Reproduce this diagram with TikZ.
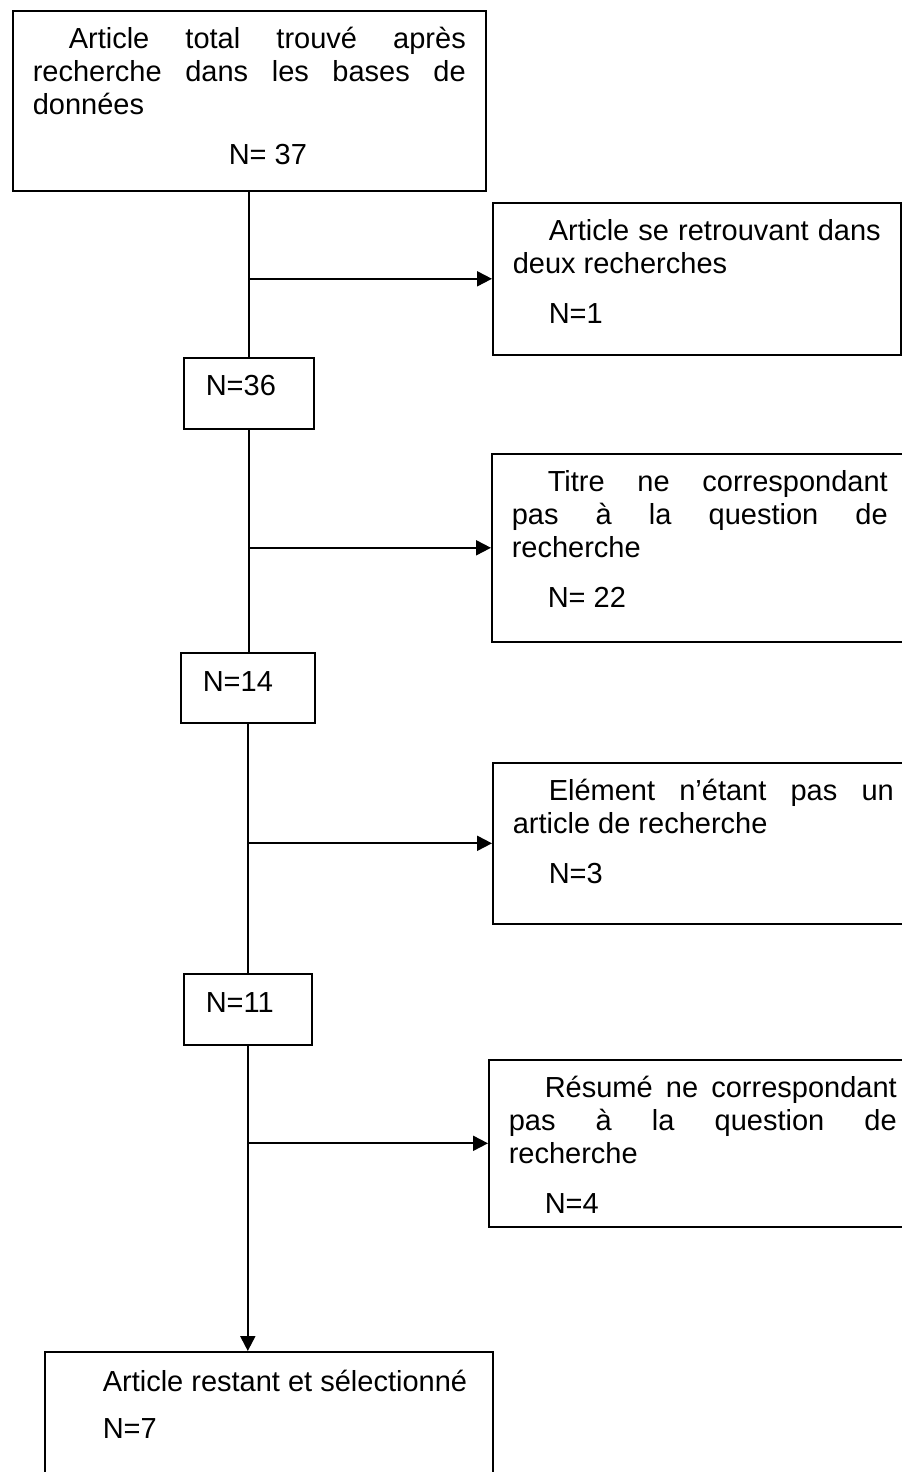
\documentclass[tikz,border=0pt]{standalone}
\usepackage{fontspec}
\setmainfont{Liberation Sans}
\usetikzlibrary{arrows.meta,positioning}
\hyphenpenalty=10000
\tolerance=10000
\hbadness=10000

\begin{document}
\begin{tikzpicture}[
  x=0.5pt, y=-0.5pt,
  textbox/.style={rectangle, draw, line width=0.8pt, anchor=north west, align=justify,
                  inner xsep=10pt, inner ysep=0pt, text height=19pt,
                  font=\fontsize{14.5pt}{16.5pt}\selectfont},
  countbox/.style={rectangle, draw, line width=0.8pt, anchor=north west, align=left,
                   inner xsep=11pt, inner ysep=0pt, text height=19.5pt,
                   font=\fontsize{14.5pt}{16.5pt}\selectfont},
  link/.style={line width=1pt},
  arr/.style={-{Triangle[length=7.5pt,width=7.5pt]}, line width=1pt},
]
\useasboundingbox (0,0) rectangle (901,1472);

% Main column
\node[textbox, text width=216.5pt, text depth=71pt] (total) at (12,10)
  {\hspace*{18pt}Article total trouvé après recherche dans les bases de données\par
   \vspace{8.5pt}\hspace*{98pt}N= 37};
\node[countbox, text width=43pt, text height=19pt, text depth=16.5pt] (n36) at (183,357) {N=36};
\node[countbox, text width=45pt, text depth=15.5pt] (n14) at (180,652) {N=14};
\node[countbox, text width=42pt, text depth=16pt] (n11) at (183,973) {N=11};
\node[textbox, text width=204pt, text height=20pt, text depth=42pt] (final) at (44,1351)
  {\hspace*{19pt}Article restant et sélectionné\par
   \vspace{7pt}\hspace*{19pt}N=7};

% Excluded articles on the right
\node[textbox, text width=184pt, text depth=57pt] (dup) at (492,202)
  {\hspace*{18pt}Article se retrouvant dans deux recherches\par
   \vspace{8.5pt}\hspace*{18pt}N=1};
\node[textbox, text width=188pt, text depth=75pt] (title) at (491,453)
  {\hspace*{18pt}Titre ne correspondant\linebreak pas à la question de\linebreak recherche\par
   \vspace{8.5pt}\hspace*{18pt}N= 22};
\node[textbox, text width=190.5pt, text depth=61.5pt] (notart) at (492,762)
  {\hspace*{18pt}Elément n’étant pas un article de recherche\par
   \vspace{8.5pt}\hspace*{18pt}N=3};
\node[textbox, text width=194pt, text depth=64.5pt] (abstract) at (488,1059)
  {\hspace*{18pt}Résumé ne correspondant\linebreak pas à la question de\linebreak recherche\par
   \vspace{8.5pt}\hspace*{18pt}N=4};

% Main flow
\draw[link] (total.south -| n36.north) -- (n36.north);
\draw[link] (n36.south) -- (n36.south |- n14.north);
\draw[link] (n14.south) -- (n14.south |- n11.north);
\draw[arr] (n11.south) -- (n11.south |- final.north);

% Exclusion arrows
\draw[arr] (dup.west -| n36.north) -- (dup.west);
\draw[arr] (title.west -| n36.south) -- (title.west);
\draw[arr] (notart.west -| n14.south) -- (notart.west);
\draw[arr] (abstract.west -| n11.south) -- (abstract.west);

\end{tikzpicture}
\end{document}
